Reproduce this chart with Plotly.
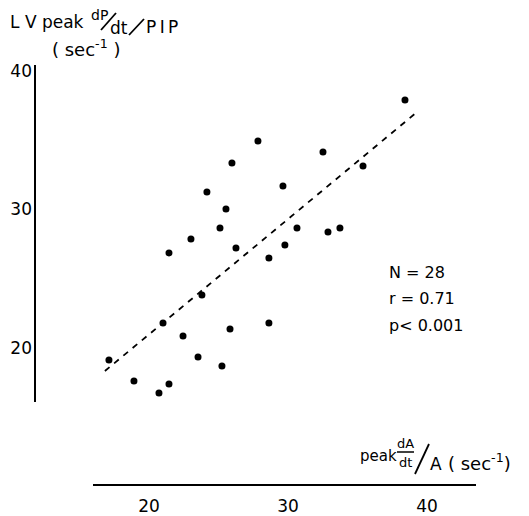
import plotly.graph_objects as go

# ---- data ----
x_vals = [17.12, 18.92, 20.72, 21.44, 21.01, 21.44, 22.45, 23.02, 23.53, 23.81,
          24.17, 25.11, 25.25, 25.54, 25.83, 25.97, 26.26, 27.84, 28.63, 28.63,
          29.64, 29.78, 30.65, 32.52, 32.88, 33.74, 35.40, 38.42]
y_vals = [19.13, 17.62, 16.75, 17.40, 21.81, 26.86, 20.87, 27.87, 19.35, 23.83,
          31.26, 28.66, 18.70, 30.04, 21.37, 33.36, 27.22, 34.95, 26.50, 21.81,
          31.70, 27.44, 28.66, 34.15, 28.38, 28.66, 33.14, 37.91]
fit_x = [16.83, 39.21]
fit_y = [18.34, 36.97]
x_ticks = [20, 30, 40]
y_ticks = [20, 30, 40]
stats_lines = ["N = 28", "r = 0.71", "p< 0.001"]

W, H = 529, 516
L, R, T, B = 35, 53, 65, 31
PW, PH = W - L - R, H - T - B
X_RANGE = [11.80, 43.53]
Y_RANGE = [10.11, 40.43]
FONT = "DejaVu Sans"


def px(xp):
    return (xp - L) / PW


def py(yp):
    return (H - B - yp) / PH


fig = go.Figure()
fig.add_trace(go.Scatter(x=fit_x, y=fit_y, mode="lines",
                         line=dict(color="black", width=1.8, dash="6px,6px"),
                         hoverinfo="skip", showlegend=False))
fig.add_trace(go.Scatter(x=x_vals, y=y_vals, mode="markers",
                         marker=dict(color="black", size=7),
                         showlegend=False))

shapes = [
    # y axis line
    dict(type="line", xref="paper", yref="paper", x0=0, x1=0, y0=py(65), y1=py(402),
         line=dict(color="black", width=2)),
    # x axis line
    dict(type="line", xref="paper", yref="paper", x0=px(93), x1=px(476), y0=0, y1=0,
         line=dict(color="black", width=2)),
    # header slashes
    dict(type="line", xref="paper", yref="paper", x0=px(101), x1=px(116), y0=py(30), y1=py(13),
         line=dict(color="black", width=1.8)),
    dict(type="line", xref="paper", yref="paper", x0=px(129), x1=px(144), y0=py(35), y1=py(19),
         line=dict(color="black", width=1.8)),
    # x title fraction bar and slash
    dict(type="line", xref="paper", yref="paper", x0=px(397), x1=px(414), y0=py(452), y1=py(452),
         line=dict(color="black", width=1.5)),
    dict(type="line", xref="paper", yref="paper", x0=px(415), x1=px(429), y0=py(474), y1=py(444),
         line=dict(color="black", width=1.8)),
]

ann = []


def add_text(text, xp, yp, size, xanchor="center"):
    ann.append(dict(text=text, x=px(xp), y=py(yp), xref="paper", yref="paper",
                    xanchor=xanchor, yanchor="middle", showarrow=False,
                    font=dict(family=FONT, size=size, color="black")))


# y title
add_text("L V peak", 8, 22, 17, "left")
add_text("dP", 99, 15, 14)
add_text("dt", 119, 28, 17)
add_text("P\u2009I\u2009P", 144, 27, 17, "left")
add_text("( sec<sup>-1</sup> )", 50, 48, 18, "left")
# x title
add_text("peak", 358, 456, 15, "left")
add_text("dA", 405, 443, 13)
add_text("dt", 405, 462, 13)
add_text("A", 436, 464, 17)
add_text("( sec<sup>-1</sup>)", 446, 462, 18, "left")
# stats
for i, s in enumerate(stats_lines):
    add_text(s, 387, 272 + 26.5 * i, 16, "left")

fig.update_layout(
    width=W, height=H,
    margin=dict(l=L, r=R, t=T, b=B, pad=0, autoexpand=False),
    paper_bgcolor="white", plot_bgcolor="white",
    shapes=shapes, annotations=ann,
    font=dict(family=FONT, size=18, color="black"),
    xaxis=dict(range=X_RANGE, tickvals=x_ticks, ticktext=[str(v) for v in x_ticks],
               showgrid=False, zeroline=False, showline=False, ticks="",
               automargin=False, ticklabelstandoff=9,
               tickfont=dict(family=FONT, size=17)),
    yaxis=dict(range=Y_RANGE, tickvals=y_ticks, ticktext=[str(v) for v in y_ticks],
               showgrid=False, zeroline=False, showline=False, ticks="",
               automargin=False, ticklabelstandoff=2,
               tickfont=dict(family=FONT, size=17)),
)

fig.write_html("out.html", config={"displayModeBar": False},
               post_script="document.body.style.margin='0';document.body.style.overflow='hidden';")
